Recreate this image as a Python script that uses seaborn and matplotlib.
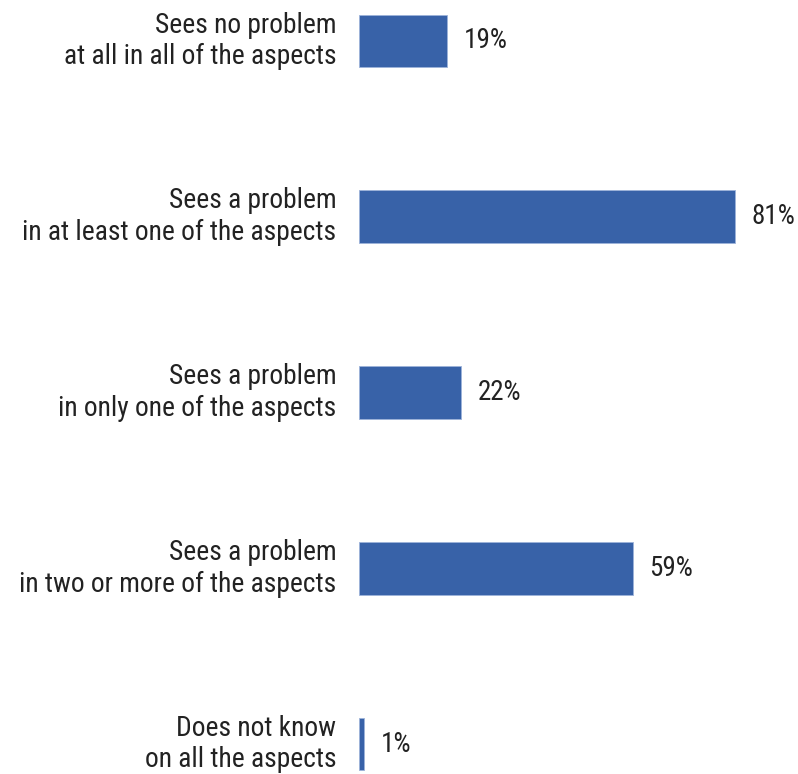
import matplotlib
matplotlib.use("Agg")
import matplotlib.pyplot as plt
import seaborn as sns
import pandas as pd

categories = [
    "Sees no problem\nat all in all of the aspects",
    "Sees a problem\nin at least one of the aspects",
    "Sees a problem\nin only one of the aspects",
    "Sees a problem\nin two or more of the aspects",
    "Does not know\non all the aspects",
]
values = [19, 81, 22, 59, 1]
value_labels = ["19%", "81%", "22%", "59%", "1%"]

sns.set_style("white")
plt.rcParams["font.family"] = ["Roboto Condensed", "DejaVu Sans"]

df = pd.DataFrame({"category": categories, "value": values})

fig = plt.figure(figsize=(7.98, 7.74), dpi=100)
ax = fig.add_axes([0.45, 0.0, 0.55, 1.0])
sns.barplot(data=df, x="value", y="category", orient="h", color="#3862A8",
            saturation=1, width=0.3, edgecolor="#9DB3DA", linewidth=0.6, ax=ax)

for i, (v, lab) in enumerate(zip(values, value_labels)):
    ax.text(v + 3.6, i, lab, va="center", ha="left", fontsize=19.5, color="#222222")

ax.set_xlim(0, 94.6)
ax.set_ylim(4.17, -0.233)
ax.set_xlabel("")
ax.set_ylabel("")
ax.set_xticks([])
ax.tick_params(axis="y", length=0, pad=16.5)
for lab in ax.get_yticklabels():
    lab.set_fontsize(19.8)
    lab.set_color("#222222")
    lab.set_horizontalalignment("right")
    lab.set_verticalalignment("center")
    lab.set_linespacing(1.22)
sns.despine(ax=ax, left=True, bottom=True)

fig.savefig("out.png", dpi=100)
